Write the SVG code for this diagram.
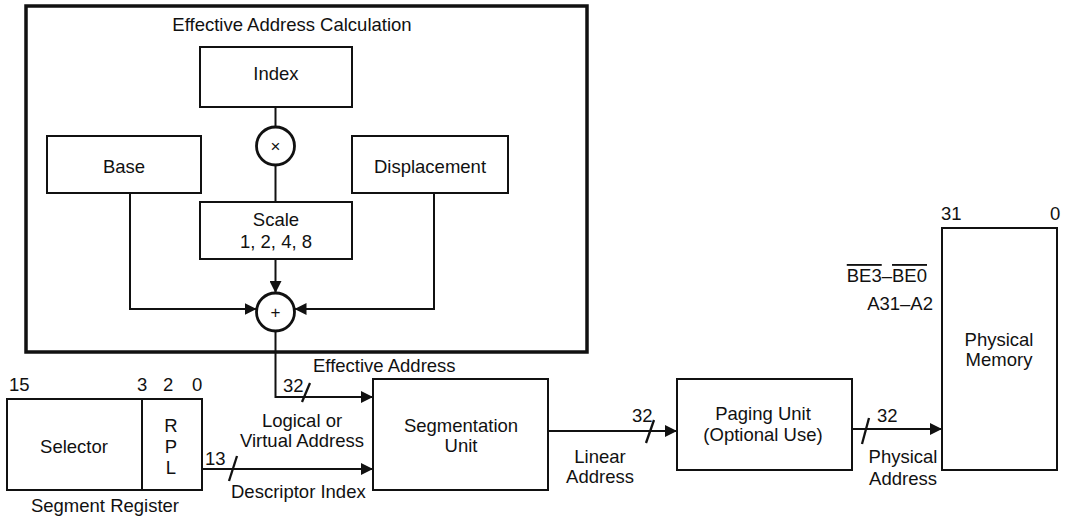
<svg xmlns="http://www.w3.org/2000/svg" width="1069" height="519" viewBox="0 0 1069 519">
<style>
text{font-family:"Liberation Sans",Arial,sans-serif;font-size:18.5px;fill:#111}
.c{text-anchor:middle}
.e{text-anchor:end}
.box{fill:#fff;stroke:#111;stroke-width:2}
.op{fill:#fff;stroke:#111;stroke-width:2.8}
.ln{fill:none;stroke:#111;stroke-width:2}
.sl{fill:none;stroke:#111;stroke-width:2.3}
.arr{fill:none;stroke:#111;stroke-width:2;marker-end:url(#ah)}
.ol{text-decoration:overline}
</style>
<defs>
<marker id="ah" viewBox="0 0 12 12" refX="12" refY="6" markerWidth="12" markerHeight="12" markerUnits="userSpaceOnUse" orient="auto">
<path d="M0,0 L12,6 L0,12 z" fill="#111"/>
</marker>
</defs>
<rect width="1069" height="519" fill="#fff"/>
<g id="ea-calc">
<rect x="26" y="6" width="561" height="346" fill="none" stroke="#111" stroke-width="3.5"/>
<text class="c" x="292" y="31">Effective Address Calculation</text>
</g>
<g id="index"><rect class="box" x="200" y="47" width="152" height="60"/><text class="c" x="276" y="80">Index</text></g>
<g id="mul"><circle class="op" cx="275.5" cy="146" r="19"/><text class="c" x="275.5" y="152" style="font-size:17px">×</text></g>
<g id="base"><rect class="box" x="47" y="136" width="154" height="57"/><text class="c" x="124" y="173">Base</text></g>
<g id="disp"><rect class="box" x="352" y="136" width="156" height="57"/><text class="c" x="430" y="173">Displacement</text></g>
<g id="scale"><rect class="box" x="200" y="202" width="152" height="57"/><text class="c" x="276" y="226">Scale</text><text class="c" x="276" y="248">1, 2, 4, 8</text></g>
<g id="add"><circle class="op" cx="275.5" cy="312" r="19"/><text class="c" x="275.5" y="318" style="font-size:17px">+</text></g>
<g id="segreg">
<rect class="box" x="7" y="399" width="195" height="91"/>
<line class="ln" x1="142" y1="399" x2="142" y2="490"/>
<text x="9" y="391">15</text><text x="137" y="391">3</text><text x="163" y="391">2</text><text x="192" y="391">0</text>
<text class="c" x="74" y="453">Selector</text>
<text class="c" x="171" y="432">R</text><text class="c" x="171" y="453">P</text><text class="c" x="171" y="474">L</text>
<text class="c" x="105" y="512">Segment Register</text>
</g>
<g id="segunit"><rect class="box" x="373" y="379" width="175" height="111"/><text class="c" x="461" y="432">Segmentation</text><text class="c" x="461" y="452">Unit</text></g>
<g id="paging"><rect class="box" x="677" y="379" width="175" height="91"/><text class="c" x="763" y="420">Paging Unit</text><text class="c" x="763" y="441">(Optional Use)</text></g>
<g id="memory">
<rect class="box" x="942" y="228" width="115" height="242"/>
<text x="941" y="220">31</text><text x="1050" y="220">0</text>
<text class="c" x="999" y="346">Physical</text><text class="c" x="999" y="366">Memory</text>
<text class="e" x="927" y="282"><tspan class="ol">BE3</tspan>–<tspan class="ol">BE0</tspan></text>
<text class="e" x="933" y="310">A31–A2</text>
</g>
<g id="connectors">
<line class="ln" x1="275.5" y1="107" x2="275.5" y2="127"/>
<line class="ln" x1="275.5" y1="165" x2="275.5" y2="202"/>
<line class="arr" x1="275.5" y1="259" x2="275.5" y2="293"/>
<polyline class="arr" points="130,193 130,309 256.5,309"/>
<polyline class="arr" points="434,193 434,309 294.5,309"/>
<polyline class="arr" points="275.5,331 275.5,397 373,397"/>
<line class="arr" x1="202" y1="469" x2="373" y2="469"/>
<line class="arr" x1="548" y1="431" x2="677" y2="431"/>
<line class="arr" x1="852" y1="429" x2="942" y2="429"/>
<line class="sl" x1="302" y1="402" x2="310" y2="383"/>
<line class="sl" x1="229" y1="481" x2="237" y2="456"/>
<line class="sl" x1="646" y1="443" x2="654" y2="420"/>
<line class="sl" x1="862" y1="444" x2="869" y2="418"/>
</g>
<g id="labels">
<text x="313" y="372">Effective Address</text>
<text x="283" y="392">32</text>
<text x="205" y="465">13</text>
<text class="c" x="302" y="427">Logical or</text>
<text class="c" x="302" y="447">Virtual Address</text>
<text x="231" y="498">Descriptor Index</text>
<text x="632" y="422">32</text>
<text class="c" x="600" y="463">Linear</text>
<text class="c" x="600" y="483">Address</text>
<text x="877" y="422">32</text>
<text class="c" x="903" y="463">Physical</text>
<text class="c" x="903" y="485">Address</text>
</g>
</svg>
